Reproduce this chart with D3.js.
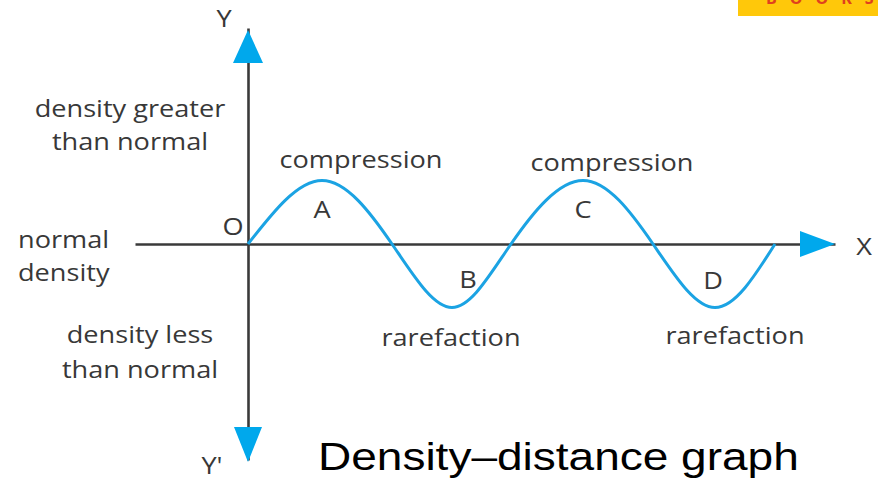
<!DOCTYPE html>
<html>
<head>
<meta charset="utf-8">
<script src="https://cdn.jsdelivr.net/npm/d3@7"></script>
<style>
  body { margin: 0; background: #fff; }
  svg { display: block; }
</style>
</head>
<body>
<div id="graph-holder"></div>
<script>
// wave: distance (arbitrary units) vs density (relative)
var distance = [0, 74, 144, 204, 263, 335, 405, 467, 527];
var density  = [0, 1, 0, -1, 0, 1, 0, -1, 0];

// extrema of the wave and their names
var extremaIndex = [1, 3, 5, 7];
var pointNames = ["A", "B", "C", "D"];
var waveNames = ["compression", "rarefaction", "compression", "rarefaction"];

// axis labels
var yTopLabel = ["density greater", "than normal"];
var yMidLabel = ["normal", "density"];
var yLowLabel = ["density less", "than normal"];
var title = "Density\u2013distance graph";

var width = 878, height = 489;
var stretch = 1.18; // source picture is a bit wider than it is tall
var axisColor = "#3a3a3a", waveColor = "#1ba3e3", arrowColor = "#00a8ec";
var textColor = "#383838";

var svg = d3.select("#graph-holder").append("svg")
  .attr("width", width)
  .attr("height", height);

// scales: 1 unit of distance ~ 1px, density +-1 ~ 63px
var x = d3.scaleLinear().domain([-113, 587]).range([135, 835]);
var y = d3.scaleLinear().domain([-3.4, 3.4]).range([460, 28]);

// axes without ticks, just the lines
svg.append("g")
  .attr("transform", "translate(0," + y(0) + ")")
  .call(d3.axisBottom(x).tickValues([]).tickSizeOuter(0))
  .select(".domain")
  .attr("stroke", axisColor)
  .attr("stroke-width", 2.6);

svg.append("g")
  .attr("transform", "translate(" + x(0) + ",0)")
  .call(d3.axisLeft(y).tickValues([]).tickSizeOuter(0))
  .select(".domain")
  .attr("stroke", axisColor)
  .attr("stroke-width", 2.6);

// the wave itself
var pts = distance.map(function (d, i) { return [d, density[i]]; });
var line = d3.line()
  .x(function (d) { return x(d[0]); })
  .y(function (d) { return y(d[1]); })
  .curve(d3.curveNatural);

svg.append("path")
  .datum(pts)
  .attr("d", line)
  .attr("fill", "none")
  .attr("stroke", waveColor)
  .attr("stroke-width", 3);

// arrow heads at the axis ends
var x0 = x(0), y0 = y(0);
var yTop = y.range()[1] + 2, yBot = y.range()[0] + 2, xEnd = x.range()[1];
var arrows = [
  [[x0, yTop], [x0 - 15, yTop + 33], [x0 + 15, yTop + 33]],
  [[x0, yBot], [x0 - 14, yBot - 35], [x0 + 14, yBot - 35]],
  [[xEnd, y0], [xEnd - 35, y0 - 13], [xEnd - 35, y0 + 13]]
];
svg.selectAll(".arrow")
  .data(arrows)
  .enter()
  .append("path")
  .attr("class", "arrow")
  .attr("d", function (d) { return "M" + d.join("L") + "Z"; })
  .attr("fill", arrowColor);

// helper: text stretched sideways like the picture
function label(txt, cx, by, anchor, size, font, color) {
  return svg.append("text")
    .attr("transform", "translate(" + cx + "," + by + ") scale(" + stretch + ",1)")
    .attr("text-anchor", anchor || "middle")
    .style("font-family", font || "'Open Sans', sans-serif")
    .style("font-size", (size || 23) + "px")
    .style("fill", color || textColor)
    .text(txt);
}

// A-D inside the humps, names above / below
var pointDx = [0, 16, 0, -2];
var pointDy = [38, -20, 38, -19];
var nameDx = [39, -1, 29, 20];
var nameDy = [-12, 38, -9, 36];
extremaIndex.forEach(function (k, i) {
  var px = x(distance[k]), py = y(density[k]);
  label(pointNames[i], px + pointDx[i], py + pointDy[i]);
  label(waveNames[i], px + nameDx[i], py + nameDy[i]);
});

// axis names
label("Y", 224, 27);
label("Y'", 212, 474);
label("X", 864, 255);
label("O", 233, 235);

yTopLabel.forEach(function (t, i) { label(t, 130, 117 + i * 33); });
yMidLabel.forEach(function (t, i) { label(t, 18, 248 + i * 33, "start"); });
yLowLabel.forEach(function (t, i) { label(t, 140, 343 + i * 35); });

// caption
label(title, 318, 470, "start", 39, "'Liberation Sans', Arial, sans-serif", "#000");

// publisher badge cut off at the top right
svg.append("rect")
  .attr("x", 738).attr("y", 0)
  .attr("width", 140).attr("height", 16)
  .attr("fill", "#ffc80a");
svg.append("text")
  .attr("x", 766).attr("y", 4)
  .style("font-family", "'Open Sans', sans-serif")
  .style("font-weight", "bold")
  .style("font-size", "16px")
  .style("letter-spacing", "13px")
  .style("fill", "#e0401e")
  .text("BOOKS");
</script>
</body>
</html>
